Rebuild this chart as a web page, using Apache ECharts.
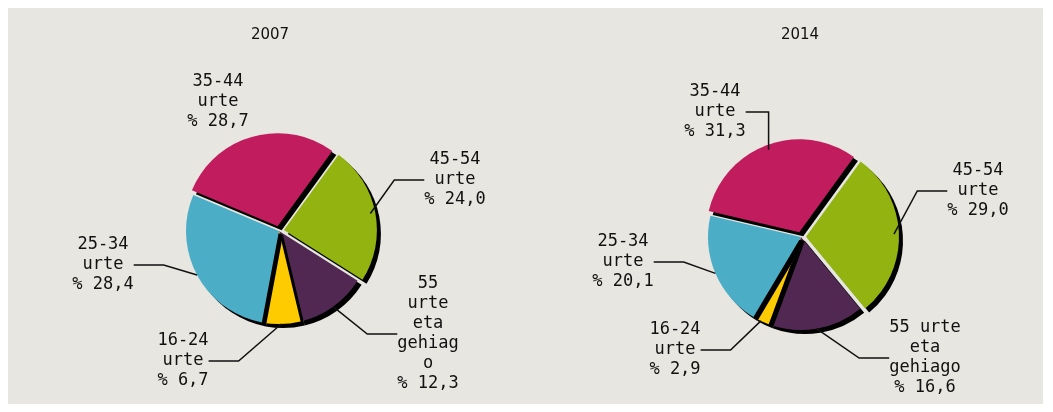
<!DOCTYPE html>
<html lang="eu">
<head>
<meta charset="UTF-8">
<title>adina</title>
<style>
  html, body { margin: 0; padding: 0; background: #fff; }
  #chart { width: 1053px; height: 412px; }
</style>
</head>
<body>
<div id="chart"></div>
<script src="https://cdn.jsdelivr.net/npm/echarts@6/dist/echarts.min.js"></script>
<script>
// slice order clockwise from the green one
var categories = ['45-54 urte', '55 urte eta gehiago', '16-24 urte', '25-34 urte', '35-44 urte'];
var years = ['2007', '2014'];
var values2007 = [24.0, 12.3, 6.7, 28.4, 28.7];
var values2014 = [29.0, 16.6, 2.9, 20.1, 31.3];
// label text lines (before the percent line), as wrapped in the picture
var labelLines2007 = ['45-54\nurte', '55\nurte\neta\ngehiag\no', '16-24\nurte', '25-34\nurte', '35-44\nurte'];
var labelLines2014 = ['45-54\nurte', '55 urte\neta\ngehiago', '16-24\nurte', '25-34\nurte', '35-44\nurte'];
var colors = ['#92b310', '#512851', '#fecb00', '#4badc6', '#c11c5d'];

// layout (screen px)
var labelPos = [
  [[455, 180], [428, 334], [183, 361], [103, 265], [218, 102]],
  [[978, 191], [925, 358], [675, 350], [623, 262], [715, 112]]
];
var centers = [[279, 231], [801, 237]];

function pct(v) { return '% ' + v.toFixed(1).replace('.', ','); }

// visible slices, green and magenta pulled out a little
function pieSeries(idx, values) {
  return {
    type: 'pie',
    center: centers[idx],
    radius: 93,
    startAngle: 54,
    selectedMode: 'multiple',
    selectedOffset: 5,
    silent: true,
    emphasis: { disabled: true },
    itemStyle: {
      shadowColor: '#000',
      shadowBlur: 0,
      shadowOffsetX: 4,
      shadowOffsetY: 4
    },
    label: { show: false },
    labelLine: { show: false },
    data: values.map(function (v, i) {
      return { name: categories[i], value: v, itemStyle: { color: colors[i] }, selected: (i === 0 || i === 4) };
    })
  };
}

// transparent copy that only carries the labels
function labelSeries(idx, values, lines) {
  return {
    type: 'pie',
    center: centers[idx],
    radius: 93,
    startAngle: 54,
    silent: true,
    z: 3,
    emphasis: { disabled: true },
    itemStyle: { color: 'rgba(0,0,0,0)' },
    label: {
      show: true,
      position: 'outside',
      color: '#111',
      fontFamily: 'DejaVu Sans Mono',
      fontSize: 17,
      lineHeight: 20,
      align: 'center',
      formatter: function (p) { return lines[p.dataIndex] + '\n' + pct(p.value); }
    },
    labelLine: {
      show: true,
      lineStyle: { color: '#111', width: 1.5 }
    },
    labelLayout: function (p) {
      var pos = labelPos[idx][p.dataIndex];
      return { x: pos[0], y: pos[1], align: 'center', verticalAlign: 'middle' };
    },
    data: values.map(function (v, i) {
      var item = { name: categories[i], value: v };
      if (idx === 0 && i === 4) item.labelLine = { show: false };
      return item;
    })
  };
}

var chart = echarts.init(document.getElementById('chart'));
var titleStyle = { fontFamily: 'DejaVu Sans', fontSize: 15, fontWeight: 'normal', color: '#111' };
var option = {
  backgroundColor: '#ffffff',
  animation: false,
  title: [
    { text: years[0], left: 265, top: 23, textAlign: 'center', textStyle: titleStyle },
    { text: years[1], left: 795, top: 23, textAlign: 'center', textStyle: titleStyle }
  ],
  graphic: [{
    type: 'rect', z: -10, silent: true,
    shape: { x: 8, y: 8, width: 1035, height: 396 },
    style: { fill: '#e8e6e0' }
  }],
  series: [
    pieSeries(0, values2007),
    pieSeries(1, values2014),
    labelSeries(0, values2007, labelLines2007),
    labelSeries(1, values2014, labelLines2014)
  ]
};
chart.setOption(option);
</script>
</body>
</html>
